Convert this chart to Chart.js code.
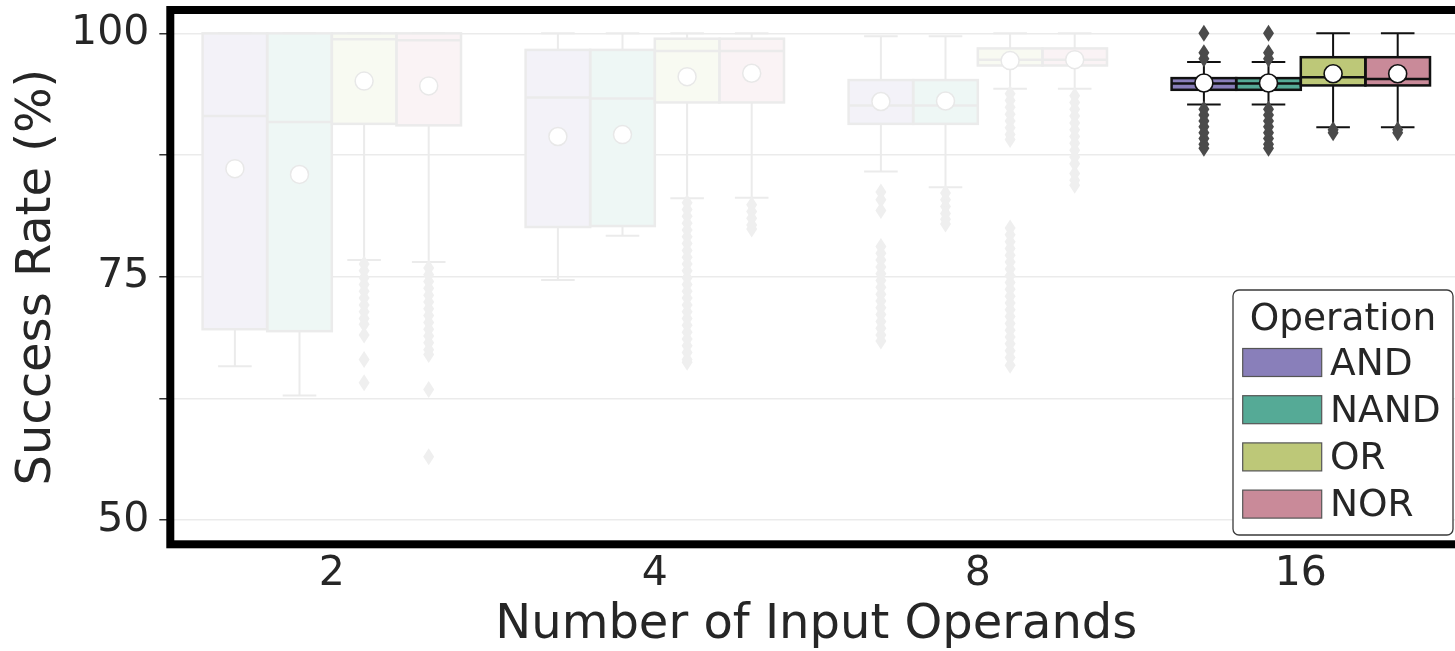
<!DOCTYPE html>
<html>
<head>
<meta charset="utf-8">
<script src="https://cdn.jsdelivr.net/npm/chart.js@4.4.1/dist/chart.umd.min.js"></script>
<style>
  html, body { margin: 0; padding: 0; background: #fff; overflow: hidden; }
  #wrap { width: 1455px; height: 651px; overflow: hidden; }
</style>
</head>
<body>
<div id="wrap"><canvas id="boxChart" width="1480" height="651"></canvas></div>
<script>
const groups = ['2', '4', '8', '16'];
const operations = ['AND', 'NAND', 'OR', 'NOR'];
const opColors = ['#897fba', '#55aa96', '#bdc878', '#c98a99'];
const highlighted = [false, false, false, true];
const legendTitle = 'Operation';

const yTicks = [50, 62.5, 75, 87.5, 100];
const yLabelled = [50, 75, 100];

// rows follow operations, columns follow groups
const whiskerLow = [
  [65.8, 74.65, 85.8, 92.7],
  [62.8, 79.2, 84.2, 92.7],
  [76.7, 83.05, 94.3, 90.35],
  [76.5, 83.1, 94.3, 90.35]
];
const q1 = [
  [69.6, 80.1, 90.7, 94.2],
  [69.4, 80.2, 90.7, 94.2],
  [90.7, 92.9, 96.7, 94.65],
  [90.55, 92.9, 96.7, 94.65]
];
const median = [
  [91.5, 93.4, 92.6, 94.85],
  [90.9, 93.3, 92.6, 94.85],
  [99.4, 98.2, 97.3, 95.5],
  [99.3, 98.2, 97.3, 95.3]
];
const q3 = [
  [100, 98.3, 95.2, 95.4],
  [100, 98.3, 95.2, 95.4],
  [100, 99.45, 98.45, 97.55],
  [100, 99.45, 98.45, 97.55]
];
const whiskerHigh = [
  [100, 100, 99.7, 97.05],
  [100, 100, 99.7, 97.05],
  [100, 100, 100, 100],
  [100, 100, 100, 100]
];
const mean = [
  [86.1, 89.4, 93.0, 94.9],
  [85.5, 89.6, 93.05, 94.9],
  [95.1, 95.55, 97.2, 95.85],
  [94.6, 95.9, 97.3, 95.85]
];
const fliers = [
  [
    [],
    [],
    [83.7, 82.9, 81.8, 78.1, 77.4, 76.7, 76.0, 75.3, 74.6, 73.9, 73.2, 72.5, 71.8, 71.1, 70.4, 69.7, 69.0, 68.4],
    [100, 98.0, 97.4, 92.2, 91.6, 91.0, 90.4, 89.8, 89.2, 88.6, 88.2]
  ],
  [
    [],
    [],
    [83.6, 82.9, 82.2, 81.5, 80.9, 80.4],
    [100, 98.0, 97.4, 92.2, 91.6, 91.0, 90.4, 89.8, 89.2, 88.6, 88.2]
  ],
  [
    [76.3, 75.6, 74.9, 74.2, 73.5, 72.8, 72.1, 71.4, 70.7, 70.1, 69.0, 66.5, 64.1],
    [82.6, 81.9, 81.2, 80.5, 79.8, 79.1, 78.4, 77.7, 77.0, 76.3, 75.6, 74.9, 74.2, 73.5, 72.8, 72.1, 71.4, 70.7, 70.0, 69.3, 68.6, 67.9, 67.2, 66.5, 66.2],
    [93.8, 93.1, 92.4, 91.7, 91.0, 90.3, 89.6, 89.1, 80.0, 79.3, 78.6, 77.9, 77.2, 76.5, 75.8, 75.1, 74.4, 73.7, 73.0, 72.3, 71.6, 70.9, 70.2, 69.5, 68.8, 68.1, 67.4, 66.7, 65.9],
    [90.1, 89.8]
  ],
  [
    [75.9, 75.2, 74.5, 73.8, 73.1, 72.4, 71.7, 71.0, 70.3, 69.6, 68.9, 68.2, 67.5, 67.0, 63.4, 56.5],
    [82.4, 81.7, 81.0, 80.3, 79.9],
    [93.6, 92.9, 92.2, 91.5, 90.8, 90.1, 89.4, 88.7, 88.0, 87.3, 86.6, 85.6, 84.9, 84.4],
    [90.1, 89.8]
  ]
];

const FONT = "'DejaVu Sans', 'Liberation Sans', sans-serif";
const TEXT = '#262626';

function mixWhite(hex, a) {
  const n = parseInt(hex.slice(1), 16);
  const m = c => Math.round(c * a + 255 * (1 - a));
  return `rgb(${m((n >> 16) & 255)}, ${m((n >> 8) & 255)}, ${m(n & 255)})`;
}

function diamond(ctx, x, y, hw, hh) {
  ctx.beginPath();
  ctx.moveTo(x, y - hh);
  ctx.lineTo(x + hw, y);
  ctx.lineTo(x, y + hh);
  ctx.lineTo(x - hw, y);
  ctx.closePath();
  ctx.fill();
}

// whiskers, outlines, medians, fliers and means on top of the floating bars
const boxParts = {
  id: 'boxParts',
  afterDatasetsDraw(chart) {
    const ctx = chart.ctx;
    const ys = chart.scales.y;
    const py = v => ys.getPixelForValue(v);
    ctx.save();
    chart.data.datasets.forEach((ds, k) => {
      chart.getDatasetMeta(k).data.forEach((bar, i) => {
        const on = highlighted[i];
        const line = on ? '#111111' : '#ebebeb';
        const x = bar.x, w = bar.width, cap = w * 0.26;
        const top = py(q3[k][i]), bot = py(q1[k][i]);

        ctx.strokeStyle = line;
        ctx.lineWidth = 2;
        ctx.beginPath();
        ctx.moveTo(x, bot); ctx.lineTo(x, py(whiskerLow[k][i]));
        ctx.moveTo(x, top); ctx.lineTo(x, py(whiskerHigh[k][i]));
        ctx.moveTo(x - cap, py(whiskerLow[k][i])); ctx.lineTo(x + cap, py(whiskerLow[k][i]));
        ctx.moveTo(x - cap, py(whiskerHigh[k][i])); ctx.lineTo(x + cap, py(whiskerHigh[k][i]));
        ctx.stroke();

        ctx.lineWidth = 2.5;
        ctx.strokeRect(x - w / 2, top, w, bot - top);
        ctx.beginPath();
        ctx.moveTo(x - w / 2, py(median[k][i]));
        ctx.lineTo(x + w / 2, py(median[k][i]));
        ctx.stroke();

        ctx.fillStyle = on ? '#4b4b4b' : '#efefef';
        fliers[k][i].forEach(v => diamond(ctx, x, py(v), 5.5, 8.5));

        ctx.beginPath();
        ctx.arc(x, py(mean[k][i]), 9, 0, Math.PI * 2);
        ctx.fillStyle = '#ffffff';
        ctx.fill();
        ctx.lineWidth = on ? 1.6 : 1.5;
        ctx.strokeStyle = on ? '#111111' : '#e8e8e8';
        ctx.stroke();
      });
    });
    ctx.restore();
  },
  afterDraw(chart) {
    const ctx = chart.ctx;
    const area = chart.chartArea;
    ctx.save();
    ctx.strokeStyle = '#000000';
    ctx.lineWidth = 8;
    ctx.strokeRect(area.left, area.top, area.right - area.left, area.bottom - area.top);

    // legend, lower right inside the axes
    const lw = 220, lh = 245;
    const lx = area.right - 9.3 - lw, ly = area.bottom - 9.3 - lh;
    ctx.beginPath();
    ctx.roundRect(lx, ly, lw, lh, 6);
    ctx.fillStyle = '#ffffff';
    ctx.fill();
    ctx.lineWidth = 1.3;
    ctx.strokeStyle = '#3a3a3a';
    ctx.stroke();

    ctx.fillStyle = TEXT;
    ctx.font = `37.5px ${FONT}`;
    ctx.textBaseline = 'middle';
    ctx.textAlign = 'center';
    ctx.fillText(legendTitle, lx + lw / 2, ly + 30);
    ctx.textAlign = 'left';
    chart.data.datasets.forEach((ds, k) => {
      const cy = ly + 72.5 + k * 47.2;
      ctx.fillStyle = ds.legendColor;
      ctx.fillRect(lx + 9.7, cy - 14, 79, 28);
      ctx.lineWidth = 1.2;
      ctx.strokeStyle = '#555555';
      ctx.strokeRect(lx + 9.7, cy - 14, 79, 28);
      ctx.fillStyle = TEXT;
      ctx.fillText(ds.label, lx + 97, cy + 2.4);
    });
    ctx.restore();
  }
};

const datasets = operations.map((op, k) => ({
  label: op,
  data: groups.map((g, i) => [q1[k][i], q3[k][i]]),
  backgroundColor: groups.map((g, i) => highlighted[i] ? opColors[k] : mixWhite(opColors[k], 0.1)),
  legendColor: opColors[k],
  borderWidth: 0,
  categoryPercentage: 0.8,
  barPercentage: 1.0
}));

const ctxBox = document.getElementById('boxChart').getContext('2d');
const boxChart = new Chart(ctxBox, {
  type: 'bar',
  data: { labels: groups, datasets: datasets },
  plugins: [boxParts],
  options: {
    responsive: false,
    animation: false,
    devicePixelRatio: 1,
    layout: { padding: { top: 10, right: 17.7, left: 0, bottom: 0 } },
    plugins: {
      legend: { display: false },
      tooltip: { enabled: false }
    },
    scales: {
      x: {
        grid: { display: false, drawTicks: false },
        border: { display: false },
        ticks: {
          color: TEXT,
          padding: 5,
          font: { family: FONT, size: 41 }
        },
        title: {
          display: true,
          text: 'Number of Input Operands',
          color: TEXT,
          font: { family: FONT, size: 48, lineHeight: 1 },
          padding: { top: 0, bottom: 1.5 }
        },
        afterFit: scale => {
          scale.height = 106.7;
          scale.paddingLeft = 0;
          scale.paddingRight = 0;
        }
      },
      y: {
        min: 47.5,
        max: 102.4,
        afterBuildTicks: scale => { scale.ticks = yTicks.map(v => ({ value: v })); },
        grid: {
          color: '#ebebeb',
          lineWidth: 1.5,
          tickLength: 11,
          tickColor: '#333333',
          tickWidth: 1.5
        },
        border: { display: false },
        ticks: {
          color: TEXT,
          padding: 10,
          font: { family: FONT, size: 41 },
          callback: v => yLabelled.includes(v) ? String(v) : ''
        },
        title: {
          display: true,
          text: 'Success Rate (%)',
          color: TEXT,
          font: { family: FONT, size: 48, lineHeight: 1 },
          padding: { top: 14, bottom: 0 }
        },
        afterFit: scale => {
          scale.width = 170.3;
          scale.paddingTop = 0;
          scale.paddingBottom = 0;
        }
      }
    }
  }
});
</script>
</body>
</html>
